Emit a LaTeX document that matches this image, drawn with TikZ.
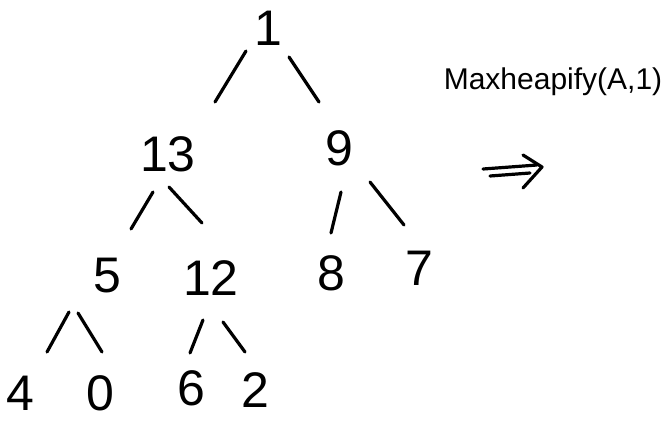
\documentclass[tikz,border=0pt]{standalone}
\usepackage{fontspec}
\setmainfont{Liberation Sans}
\usetikzlibrary{calc}
\begin{document}
\begin{tikzpicture}[x=1pt,y=-1pt,
  key/.style={inner sep=0pt, font=\fontsize{50}{50}\selectfont},
  edge/.style={line width=3.2pt, line cap=round, line join=round},
  label/.style={inner sep=0pt, font=\fontsize{30}{30}\selectfont},
]
\useasboundingbox (0,0) rectangle (668,423);

% heap keys
\node[key] (n1)  at (268,28)  {1};
\node[key] (n13) at (168,154) {13};
\node[key] (n9)  at (339,148) {9};
\node[key] (n5)  at (107,276) {5};
\node[key] (n12) at (211,278) {12};
\node[key] (n8)  at (331,273) {8};
\node[key] (n7)  at (419,268) {7};
\node[key] (n4)  at (20,393)  {4};
\node[key] (n0)  at (100,393) {0};
\node[key] (n6)  at (191,388) {6};
\node[key] (n2)  at (255,390) {2};

% parent-child strokes
\draw[edge] ([shift={(-22,23)}]n1.center) -- ([shift={(47,-52)}]n13.center);
\draw[edge] ([shift={(21,29)}]n1.center) -- ([shift={(-20,-46)}]n9.center);
\draw[edge] ([shift={(-15,38)}]n13.center) -- ([shift={(24,-47)}]n5.center);
\draw[edge] ([shift={(1,33)}]n13.center) -- ([shift={(-9,-55)}]n12.center);
\draw[edge] ([shift={(2,44)}]n9.center) -- ([shift={(0,-40)}]n8.center);
\draw[edge] ([shift={(31,34)}]n9.center) -- ([shift={(-15,-43)}]n7.center);
\draw[edge] ([shift={(-38,36)}]n5.center) -- ([shift={(27,-41)}]n4.center);
\draw[edge] ([shift={(-29,37)}]n5.center) -- ([shift={(2,-41)}]n0.center);
\draw[edge] ([shift={(-8,42)}]n12.center) -- ([shift={(-1,-35)}]n6.center);
\draw[edge] ([shift={(12,44)}]n12.center) -- ([shift={(-10,-38)}]n2.center);

% operation label and implication arrow
\node[label] (op) at (553,82) {Maxheapify(A,1)};
\draw[edge] (483,169) -- (537,165);
\draw[edge] (490,176) -- (530,173);
\draw[edge] (523,155) -- (542,167) -- (523,188);
\end{tikzpicture}
\end{document}
